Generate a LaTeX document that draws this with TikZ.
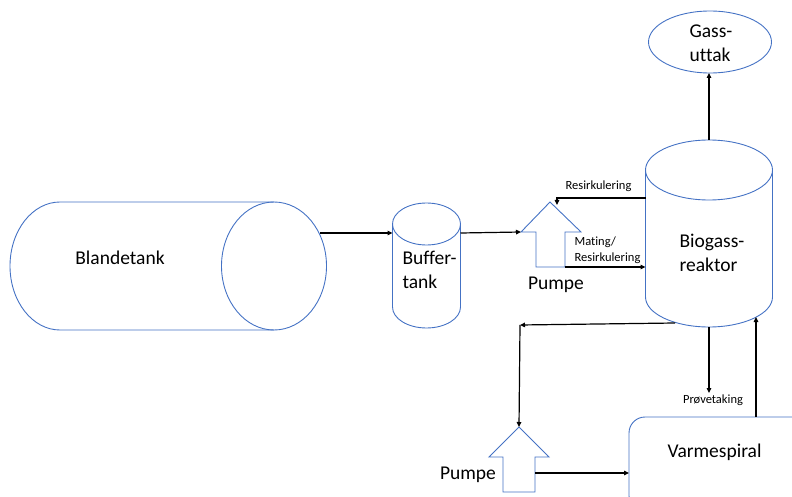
\documentclass[tikz,border=0pt]{standalone}
\usepackage{fontspec}
\setmainfont{Carlito}[Ligatures={NoCommon}]
\usetikzlibrary{arrows.meta}
\definecolor{tankblue}{HTML}{4472C4}
\begin{document}
\begin{tikzpicture}[x=1pt,y=-1pt,
  outl/.style={draw=tankblue,line width=0.9pt},
  flow/.style={draw=black,line width=1.2pt,-{Triangle[length=5pt,width=4.5pt]}},
  plain/.style={draw=black,line width=1.2pt},
  bigtxt/.style={font=\fontsize{19.5}{24}\selectfont,align=left,inner sep=0pt},
  smalltxt/.style={font=\fontsize{12.5}{16}\selectfont,align=left,inner sep=0pt}]
\clip (0,0) rectangle (792,497);

% Blandetank (horizontal cylinder)
\draw[outl] (274,202) -- (60,202) arc[start angle=90,end angle=270,x radius=50pt,y radius=64pt] -- (274,330);
\draw[outl] (274,266) ellipse[x radius=52.5pt,y radius=64pt];
\node[bigtxt] (blandetank) at (120,258) {Blandetank};
\coordinate (blandeR) at (320,233);

% Buffertank
\draw[outl] (426.5,224) ellipse[x radius=34pt,y radius=21pt];
\draw[outl] (392.5,224) -- (392.5,307) arc[start angle=180,end angle=360,x radius=34pt,y radius=21pt] -- (460.5,224);
\node[bigtxt] (buffer) at (429.5,270) {Buffer-\\tank};
\coordinate (bufferL) at (392.5,233);
\coordinate (bufferR) at (460.5,233);

% Pumpe 1
\draw[outl] (550,202) -- (581,232) -- (565,232) -- (565,267) -- (536,267) -- (536,232) -- (521,232) -- cycle;
\node[bigtxt] (pumpe1) at (556,285) {Pumpe};
\coordinate (p1L) at (521,232);
\coordinate (p1R) at (565,267);
\coordinate (p1T) at (557,205);

% Biogassreaktor
\draw[outl] (709,170) ellipse[x radius=63.5pt,y radius=30pt];
\draw[outl] (645.5,170) -- (645.5,297) arc[start angle=180,end angle=360,x radius=63.5pt,y radius=30pt] -- (772.5,170);
\node[bigtxt] (reaktor) at (712,253) {Biogass-\\reaktor};
\coordinate (rTop) at (709,140);
\coordinate (rL1) at (645.5,198);
\coordinate (rL2) at (645.5,267);
\coordinate (rB1) at (675,323);
\coordinate (rB2) at (709,327);
\coordinate (rB3) at (756,317);

% Gass-uttak
\draw[outl] (710,42) ellipse[x radius=61.5pt,y radius=31pt];
\node[bigtxt] (gass) at (711,43) {Gass-\\uttak};
\coordinate (gassB) at (709,73);

% Pumpe 2
\draw[outl] (519,427) -- (549,457) -- (535,457) -- (535,492) -- (503,492) -- (503,457) -- (489,457) -- cycle;
\node[bigtxt] (pumpe2) at (468,475) {Pumpe};
\coordinate (p2T) at (519,427);
\coordinate (p2R) at (535,473);
\coordinate (corner) at (520,325);

% Varmespiral
\draw[outl,rounded corners=16pt] (629,417) rectangle (815,512);
\node[bigtxt] (varme) at (714.5,452) {Varmespiral};
\coordinate (vL) at (629,473);
\coordinate (vT) at (756,417);

% Connectors
\draw[flow] (blandeR) -- (bufferL);
\draw[flow] (bufferR) -- (p1L);
\draw[flow] (rL1) -| (p1T);
\node[smalltxt] (resirk) at (598.5,186) {Resirkulering};
\draw[flow] (p1R) -- (rL2);
\node[smalltxt] (mating) at (607.5,250) {Mating/\\Resirkulering};
\draw[flow] (rTop) -- (gassB);
\draw[flow] (rB1) -- (corner);
\draw[flow] (corner) -- (p2T);
\draw[flow] (p2R) -- (vL);
\coordinate (proveEnd) at (709,393);
\draw[flow] (rB2) -- (proveEnd);
\node[smalltxt] (prove) at (713,400) {Prøvetaking};
\draw[flow] (vT) -- (rB3);
\end{tikzpicture}
\end{document}
